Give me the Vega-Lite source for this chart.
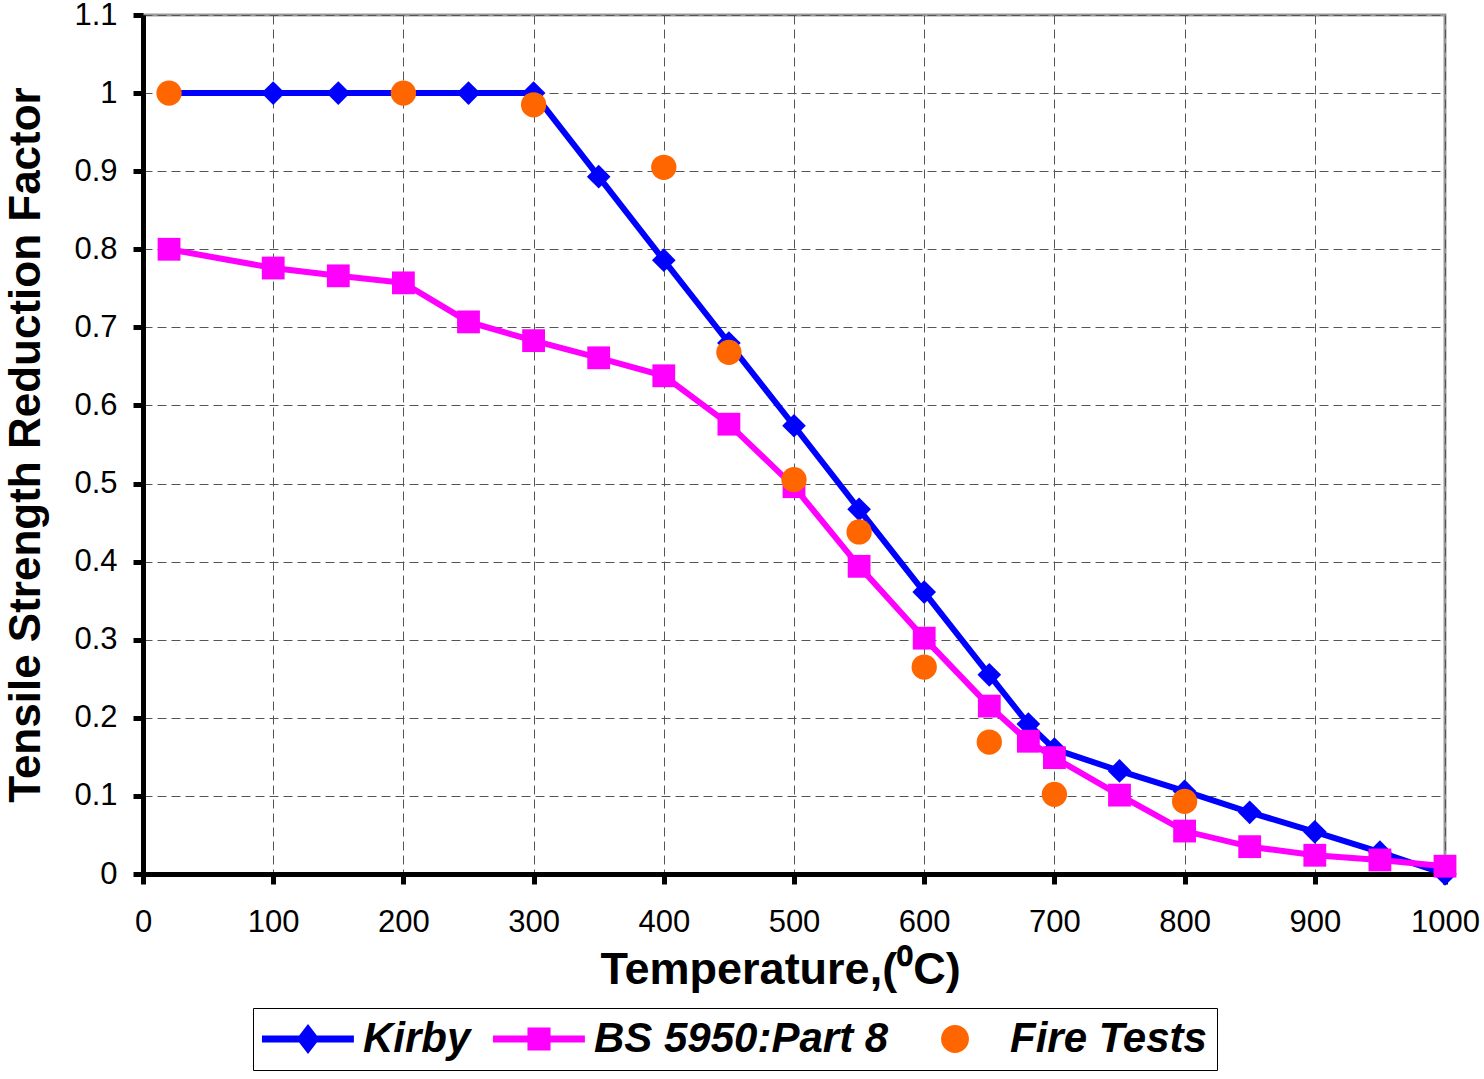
{
  "$schema": "https://vega.github.io/schema/vega-lite/v6.json",
  "width": 1302,
  "height": 859,
  "autosize": "none",
  "padding": {"left": 143, "top": 15, "right": 39, "bottom": 205},
  "background": "white",
  "config": {
    "view": {"stroke": "#999999", "strokeWidth": 3},
    "font": "Liberation Sans"
  },
  "data": {
    "values": [
      {"series": "Kirby", "t": 20, "f": 1.0},
      {"series": "Kirby", "t": 100, "f": 1.0},
      {"series": "Kirby", "t": 150, "f": 1.0},
      {"series": "Kirby", "t": 200, "f": 1.0},
      {"series": "Kirby", "t": 250, "f": 1.0},
      {"series": "Kirby", "t": 300, "f": 1.0},
      {"series": "Kirby", "t": 350, "f": 0.893},
      {"series": "Kirby", "t": 400, "f": 0.786},
      {"series": "Kirby", "t": 450, "f": 0.680},
      {"series": "Kirby", "t": 500, "f": 0.574},
      {"series": "Kirby", "t": 550, "f": 0.467},
      {"series": "Kirby", "t": 600, "f": 0.361},
      {"series": "Kirby", "t": 650, "f": 0.255},
      {"series": "Kirby", "t": 680, "f": 0.192},
      {"series": "Kirby", "t": 700, "f": 0.160},
      {"series": "Kirby", "t": 750, "f": 0.132},
      {"series": "Kirby", "t": 800, "f": 0.106},
      {"series": "Kirby", "t": 850, "f": 0.079},
      {"series": "Kirby", "t": 900, "f": 0.054},
      {"series": "Kirby", "t": 950, "f": 0.028},
      {"series": "Kirby", "t": 1000, "f": 0.0},
      {"series": "BS 5950:Part 8", "t": 20, "f": 0.80},
      {"series": "BS 5950:Part 8", "t": 100, "f": 0.776},
      {"series": "BS 5950:Part 8", "t": 150, "f": 0.766},
      {"series": "BS 5950:Part 8", "t": 200, "f": 0.757},
      {"series": "BS 5950:Part 8", "t": 250, "f": 0.707},
      {"series": "BS 5950:Part 8", "t": 300, "f": 0.683},
      {"series": "BS 5950:Part 8", "t": 350, "f": 0.661},
      {"series": "BS 5950:Part 8", "t": 400, "f": 0.638},
      {"series": "BS 5950:Part 8", "t": 450, "f": 0.576},
      {"series": "BS 5950:Part 8", "t": 500, "f": 0.496},
      {"series": "BS 5950:Part 8", "t": 550, "f": 0.394},
      {"series": "BS 5950:Part 8", "t": 600, "f": 0.302},
      {"series": "BS 5950:Part 8", "t": 650, "f": 0.215},
      {"series": "BS 5950:Part 8", "t": 680, "f": 0.170},
      {"series": "BS 5950:Part 8", "t": 700, "f": 0.149},
      {"series": "BS 5950:Part 8", "t": 750, "f": 0.101},
      {"series": "BS 5950:Part 8", "t": 800, "f": 0.055},
      {"series": "BS 5950:Part 8", "t": 850, "f": 0.035},
      {"series": "BS 5950:Part 8", "t": 900, "f": 0.024},
      {"series": "BS 5950:Part 8", "t": 950, "f": 0.018},
      {"series": "BS 5950:Part 8", "t": 1000, "f": 0.010},
      {"series": "Fire Tests", "t": 20, "f": 1.0},
      {"series": "Fire Tests", "t": 200, "f": 1.0},
      {"series": "Fire Tests", "t": 300, "f": 0.985},
      {"series": "Fire Tests", "t": 400, "f": 0.905},
      {"series": "Fire Tests", "t": 450, "f": 0.668},
      {"series": "Fire Tests", "t": 500, "f": 0.505},
      {"series": "Fire Tests", "t": 550, "f": 0.438},
      {"series": "Fire Tests", "t": 600, "f": 0.265},
      {"series": "Fire Tests", "t": 650, "f": 0.169},
      {"series": "Fire Tests", "t": 700, "f": 0.102},
      {"series": "Fire Tests", "t": 800, "f": 0.093}
    ]
  },
  "encoding": {
    "x": {
      "field": "t", "type": "quantitative",
      "scale": {"domain": [0, 1000], "nice": false, "zero": false},
      "title": "Temperature,(⁰C)",
      "axis": {
        "values": [0,100,200,300,400,500,600,700,800,900,1000],
        "format": "d",
        "domainColor": "black", "domainWidth": 5,
        "tickColor": "black", "tickWidth": 5, "tickSize": 10,
        "labelFontSize": 31, "labelColor": "black", "labelPadding": 23,
        "labelFlush": false, "labelOverlap": false,
        "titleFontSize": 45, "titleFontWeight": "bold", "titleColor": "black",
        "titlePadding": 10, "titleX": 637, "titleAlign": "center",
        "gridColor": "#555555", "gridDash": [9, 5], "gridWidth": 1, "gridOpacity": 1
      }
    },
    "y": {
      "field": "f", "type": "quantitative",
      "scale": {"domain": [0, 1.1], "nice": false},
      "title": "Tensile Strength Reduction Factor",
      "axis": {
        "values": [0,0.1,0.2,0.3,0.4,0.5,0.6,0.7,0.8,0.9,1,1.1],
        "format": "~g",
        "domainColor": "black", "domainWidth": 5,
        "tickColor": "black", "tickWidth": 5, "tickSize": 10,
        "labelFontSize": 31, "labelColor": "black", "labelPadding": 16,
        "labelFlush": false, "labelOverlap": false,
        "titleFontSize": 44, "titleFontWeight": "bold", "titleColor": "black",
        "titlePadding": 25,
        "gridColor": "#555555", "gridDash": [9, 5], "gridWidth": 1, "gridOpacity": 1
      }
    },
    "color": {
      "field": "series", "type": "nominal",
      "scale": {"domain": ["Kirby", "BS 5950:Part 8", "Fire Tests"], "range": ["#0000ff", "#ff00ff", "#ff6600"]},
      "legend": {
        "orient": "none", "direction": "horizontal",
        "legendX": 110, "legendY": 993,
        "title": null,
        "labelFontSize": 42, "labelFontWeight": "bold", "labelFontStyle": "italic",
        "labelColor": "black", "labelFont": "Liberation Sans", "labelLimit": 0,
        "symbolSize": 900, "symbolStrokeWidth": 0, "symbolOpacity": 1,
        "columnPadding": 21, "labelOffset": 58,
        "strokeColor": "black", "fillColor": "white", "padding": 10
      }
    }
  },
  "layer": [
    {
      "transform": [{"filter": "datum.series !== 'Fire Tests'"}],
      "mark": {"type": "line", "strokeWidth": 6},
      "encoding": {
        "detail": {"field": "series"}
      }
    },
    {
      "transform": [{"filter": "datum.series === 'Kirby'"}],
      "mark": {"type": "point", "filled": true, "opacity": 1, "size": 560, "shape": "diamond"}
    },
    {
      "transform": [{"filter": "datum.series === 'BS 5950:Part 8'"}],
      "mark": {"type": "point", "filled": true, "opacity": 1, "size": 520, "shape": "square"}
    },
    {
      "transform": [{"filter": "datum.series === 'Fire Tests'"}],
      "mark": {"type": "point", "filled": true, "opacity": 1, "size": 640, "shape": "circle"}
    },
    {
      "transform": [{"filter": "false"}],
      "mark": {"type": "point", "filled": true, "opacity": 1},
      "encoding": {
        "shape": {
          "field": "series", "type": "nominal",
          "scale": {
            "domain": ["Kirby", "BS 5950:Part 8", "Fire Tests"],
            "range": [
              "M-1.47,-0.23L1.01,-0.23L1.6,-1L2.19,-0.23L4.66,-0.23L4.66,0.23L2.19,0.23L1.6,1L1.01,0.23L-1.47,0.23Z",
              "M-1.47,-0.23L0.83,-0.23L0.83,-0.77L2.37,-0.77L2.37,-0.23L4.66,-0.23L4.66,0.23L2.37,0.23L2.37,0.77L0.83,0.77L0.83,0.23L-1.47,0.23Z",
              "M0.67,0A0.93,0.93 0 1,0 2.53,0A0.93,0.93 0 1,0 0.67,0Z"
            ]
          }
        }
      }
    }
  ]
}
